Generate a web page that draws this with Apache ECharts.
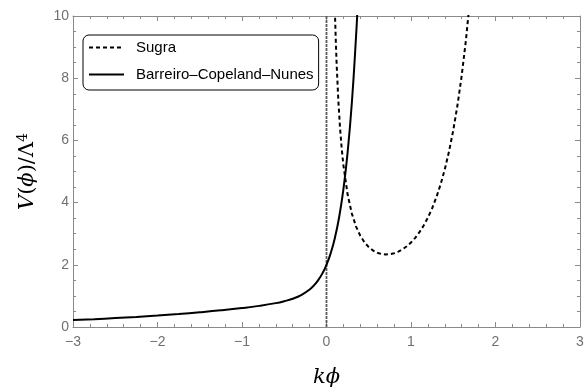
<!DOCTYPE html>
<html>
<head>
<meta charset="utf-8">
<script src="https://cdn.jsdelivr.net/npm/echarts@6/dist/echarts.min.js"></script>
<style>
  html, body { margin: 0; padding: 0; background: #fff; }
  #chart { width: 585px; height: 387px; }
</style>
</head>
<body>
<div id="chart"></div>
<script>
// Barreiro–Copeland–Nunes potential, V/Λ^4 against kϕ
const bcnX = [-3, -2.75, -2.5, -2.25, -2, -1.75, -1.5, -1.25, -1, -0.8, -0.6, -0.5, -0.4, -0.3,
  -0.2, -0.15, -0.1, -0.05, 0, 0.05, 0.1, 0.15, 0.2, 0.25, 0.3, 0.35, 0.37];
const bcnV = [0.223, 0.253, 0.287, 0.325, 0.368, 0.417, 0.473, 0.536, 0.609, 0.679, 0.768, 0.829,
  0.909, 1.026, 1.206, 1.334, 1.500, 1.716, 2.000, 2.375, 2.873, 3.537, 4.425, 5.615, 7.211, 9.357, 10.41];

// Sugra potential
const sugraX = [0.095, 0.1, 0.11, 0.12, 0.14, 0.16, 0.18, 0.2, 0.25, 0.3, 0.35, 0.4, 0.45, 0.5, 0.55,
  0.6, 0.65, 0.7, 0.75, 0.8, 0.85, 0.9, 0.95, 1.0, 1.05, 1.1, 1.15, 1.2, 1.25, 1.3, 1.35, 1.4, 1.45,
  1.5, 1.55, 1.6, 1.65, 1.7];
const sugraV = [10.62, 10.10, 9.202, 8.454, 7.284, 6.412, 5.738, 5.204, 4.258, 3.647, 3.229, 2.934,
  2.721, 2.568, 2.460, 2.389, 2.347, 2.332, 2.340, 2.371, 2.423, 2.498, 2.595, 2.718, 2.868, 3.049,
  3.263, 3.517, 3.817, 4.169, 4.583, 5.071, 5.646, 6.325, 7.129, 8.085, 9.223, 10.584];

// vertical reference line at kϕ = 0
const refLineX = 0;

const xTicks = [-3, 3, 1];   // min, max, step
const yTicks = [0, 10, 2];

const zip = (xs, ys) => xs.map((x, i) => [x, ys[i]]);

const frameColor = '#8a8a8a';
const labelColor = '#707070';
const sans = '"Liberation Sans", Arial, sans-serif';
const serif = '"DejaVu Serif", "Liberation Serif", serif';

function xAxisDef(pos, withLabels) {
  return {
    type: 'value', position: pos, min: xTicks[0], max: xTicks[1], interval: xTicks[2],
    axisLine: { show: true, onZero: false, lineStyle: { color: frameColor, width: 1 } },
    axisTick: { show: true, inside: true, length: 5, lineStyle: { color: frameColor } },
    minorTick: { show: true, splitNumber: 5, length: 3, lineStyle: { color: frameColor } },
    splitLine: { show: false },
    axisLabel: { show: withLabels, color: labelColor, fontSize: 14, fontFamily: sans, margin: 8,
      formatter: v => (v < 0 ? '\u2212' + Math.abs(v) : String(v)) },
    name: withLabels ? 'k\u03D5' : '', nameLocation: 'middle', nameGap: 40,
    nameTextStyle: { fontFamily: serif, fontStyle: 'italic', fontSize: 21, color: '#000' }
  };
}
function yAxisDef(pos, withLabels) {
  return {
    type: 'value', position: pos, min: yTicks[0], max: yTicks[1], interval: yTicks[2],
    axisLine: { show: true, onZero: false, lineStyle: { color: frameColor, width: 1 } },
    axisTick: { show: true, inside: true, length: 5, lineStyle: { color: frameColor } },
    minorTick: { show: true, splitNumber: 4, length: 3, lineStyle: { color: frameColor } },
    splitLine: { show: false },
    axisLabel: { show: withLabels, color: labelColor, fontSize: 14, fontFamily: sans, margin: 4 },
    name: withLabels ? '{i|V}{n|(}{i|\u03D5}{n|)/\u039B}{s|4}' : '',
    nameLocation: 'middle', nameGap: 33, nameRotate: 90,
    nameTextStyle: {
      color: '#000',
      rich: {
        i: { fontFamily: serif, fontStyle: 'italic', fontSize: 21, color: '#000' },
        n: { fontFamily: serif, fontSize: 21, color: '#000' },
        s: { fontFamily: serif, fontSize: 14, color: '#000', verticalAlign: 'top', padding: [0, 0, 10, 0] }
      }
    }
  };
}

const chart = echarts.init(document.getElementById('chart'), null, { renderer: 'canvas' });
chart.setOption({
  animation: false,
  backgroundColor: '#fff',
  grid: { left: 73, right: 5, top: 16, bottom: 60, containLabel: false, outerBoundsMode: 'none' },
  xAxis: [xAxisDef('bottom', true), xAxisDef('top', false)],
  yAxis: [yAxisDef('left', true), yAxisDef('right', false)],
  legend: {
    orient: 'vertical', left: 83, top: 35,
    data: ['Sugra', 'Barreiro\u2013Copeland\u2013Nunes'],
    itemWidth: 35, itemHeight: 14, itemGap: 12,
    padding: [5, 5, 8, 5],
    borderColor: '#000', borderWidth: 1, borderRadius: 6,
    backgroundColor: '#fff',
    itemStyle: { color: 'rgba(0,0,0,0)', borderColor: 'rgba(0,0,0,0)', borderWidth: 0 },
    textStyle: { fontFamily: sans, fontSize: 15, color: '#000', padding: [0, 0, 0, 7] }
  },
  series: [
    {
      name: 'axis0', type: 'line', data: [[refLineX, yTicks[0]], [refLineX, yTicks[1]]],
      showSymbol: false, symbol: 'none', silent: true, z: 1,
      lineStyle: { color: '#5a5a5a', width: 1.8, type: [3, 1] },
      itemStyle: { color: '#5a5a5a' }
    },
    {
      name: 'Sugra', type: 'line', data: zip(sugraX, sugraV),
      showSymbol: false, symbol: 'none', clip: true, smooth: false, z: 3,
      lineStyle: { color: '#000', width: 2, type: [4, 3] },
      itemStyle: { color: '#000' }
    },
    {
      name: 'Barreiro\u2013Copeland\u2013Nunes', type: 'line', data: zip(bcnX, bcnV),
      showSymbol: false, symbol: 'none', clip: true, smooth: true, z: 3,
      lineStyle: { color: '#000', width: 2 },
      itemStyle: { color: '#000' }
    }
  ]
});
</script>
</body>
</html>
